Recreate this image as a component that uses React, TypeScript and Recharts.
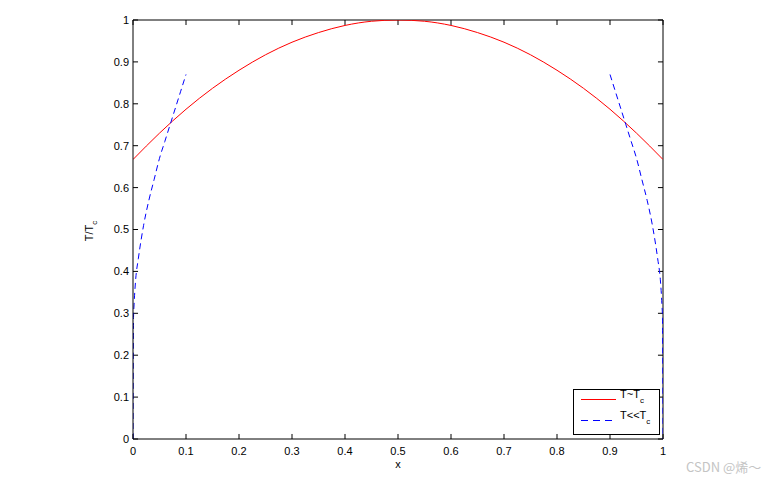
import { LineChart, Line, XAxis, YAxis, Legend, ReferenceLine } from "recharts";

// axis ticks
const xTicks = [0, 0.1, 0.2, 0.3, 0.4, 0.5, 0.6, 0.7, 0.8, 0.9, 1];
const yTicks = [0, 0.1, 0.2, 0.3, 0.4, 0.5, 0.6, 0.7, 0.8, 0.9, 1];

// T ~ Tc (red solid)
const nearX = [0, 0.05, 0.1, 0.15, 0.2, 0.25, 0.3, 0.35, 0.4, 0.45, 0.5, 0.55, 0.6, 0.65, 0.7, 0.75, 0.8, 0.85, 0.9, 0.95, 1];
const nearY = [0.667, 0.73, 0.787, 0.837, 0.88, 0.917, 0.947, 0.97, 0.987, 0.997, 1, 0.997, 0.987, 0.97, 0.947, 0.917, 0.88, 0.837, 0.787, 0.73, 0.667];

// T << Tc (blue dashed), left and right branches
const lowLeftX = [0, 0.001, 0.002, 0.005, 0.01, 0.02, 0.03, 0.04, 0.05, 0.06, 0.07, 0.08, 0.09, 0.1];
const lowLeftY = [0, 0.29, 0.32, 0.38, 0.43, 0.51, 0.57, 0.62, 0.67, 0.71, 0.75, 0.79, 0.83, 0.87];
const lowRightX = [0.9, 0.91, 0.92, 0.93, 0.94, 0.95, 0.96, 0.97, 0.98, 0.99, 0.995, 0.998, 0.999, 1];
const lowRightY = [0.87, 0.83, 0.79, 0.75, 0.71, 0.67, 0.62, 0.57, 0.51, 0.43, 0.38, 0.32, 0.29, 0];

const zip = (xs: number[], ys: number[]) => xs.map((x, i) => ({ x, y: ys[i] }));
const nearData = zip(nearX, nearY);
const lowLeft = zip(lowLeftX, lowLeftY);
const lowRight = zip(lowRightX, lowRightY);

// inward tick length in data units (matlab style box ticks)
const TICK_X = 0.0095;
const TICK_Y = 0.012;

const FONT = "'Liberation Sans', Arial, Helvetica, sans-serif";
const tickStyle = { fill: "#000", fontSize: 11, fontFamily: FONT };

function YLabel() {
  return (
    <text
      transform="translate(93,231) rotate(-90)"
      textAnchor="middle"
      fontSize={11}
      fontFamily={FONT}
      fill="#000"
    >
      T/T
      <tspan dy={4} fontSize={8}>c</tspan>
    </text>
  );
}

function XLabel() {
  return (
    <text x={398} y={468} textAnchor="middle" fontSize={11} fontFamily={FONT} fill="#000">
      x
    </text>
  );
}

function LegendBox() {
  return (
    <svg width={87} height={46} style={{ display: "block" }}>
      <rect x={0.5} y={0.5} width={86} height={45} fill="#fff" stroke="#000" />
      <line x1={8} y1={10.5} x2={43} y2={10.5} stroke="#ff0000" />
      <text x={47} y={9} fontSize={11} fontFamily={FONT} fill="#000">
        T~T<tspan dy={5} fontSize={8}>c</tspan>
      </text>
      <line x1={8} y1={31.5} x2={43} y2={31.5} stroke="#0000ff" strokeDasharray="7 5" />
      <text x={47} y={30} fontSize={11} fontFamily={FONT} fill="#000">
        T&lt;&lt;T<tspan dy={5} fontSize={8}>c</tspan>
      </text>
    </svg>
  );
}

const ax = { xAxisId: "b", yAxisId: "l" };

export default function App() {
  return (
    <div style={{ position: "fixed", left: 0, top: 0, width: 775, height: 481, background: "#fff" }}>
      <LineChart width={775} height={481} margin={{ top: 20, right: 112, bottom: 0, left: 0 }}>
        <XAxis
          xAxisId="b"
          type="number"
          dataKey="x"
          domain={[0, 1]}
          ticks={xTicks}
          allowDataOverflow
          height={42}
          tickSize={0}
          tickLine={false}
          tickMargin={8}
          tick={tickStyle}
          stroke="#000"
          label={<XLabel />}
        />
        <YAxis
          yAxisId="l"
          type="number"
          domain={[0, 1]}
          ticks={yTicks}
          allowDataOverflow
          width={133}
          tickSize={0}
          tickLine={false}
          tickMargin={4}
          tick={tickStyle}
          stroke="#000"
          label={<YLabel />}
        />
        {/* top and right edges of the box */}
        <ReferenceLine {...ax} y={1} stroke="#000" strokeWidth={1} />
        <ReferenceLine {...ax} x={1} stroke="#000" strokeWidth={1} />
        {xTicks.map((t) => (
          <ReferenceLine
            key={"bx" + t}
            {...ax}
            segment={[{ x: t, y: 0 }, { x: t, y: TICK_Y }]}
            stroke="#000"
          />
        ))}
        {xTicks.map((t) => (
          <ReferenceLine
            key={"tx" + t}
            {...ax}
            segment={[{ x: t, y: 1 }, { x: t, y: 1 - TICK_Y }]}
            stroke="#000"
          />
        ))}
        {yTicks.map((t) => (
          <ReferenceLine
            key={"ly" + t}
            {...ax}
            segment={[{ x: 0, y: t }, { x: TICK_X, y: t }]}
            stroke="#000"
          />
        ))}
        {yTicks.map((t) => (
          <ReferenceLine
            key={"ry" + t}
            {...ax}
            segment={[{ x: 1, y: t }, { x: 1 - TICK_X, y: t }]}
            stroke="#000"
          />
        ))}
        <Line
          {...ax}
          data={nearData}
          dataKey="y"
          type="monotone"
          stroke="#ff0000"
          strokeWidth={1}
          dot={false}
          activeDot={false}
          isAnimationActive={false}
        />
        <Line
          {...ax}
          data={lowLeft}
          dataKey="y"
          type="monotone"
          stroke="#0000ff"
          strokeWidth={1}
          strokeDasharray="6 4"
          dot={false}
          activeDot={false}
          isAnimationActive={false}
        />
        <Line
          {...ax}
          data={lowRight}
          dataKey="y"
          type="monotone"
          stroke="#0000ff"
          strokeWidth={1}
          strokeDasharray="6 4"
          dot={false}
          activeDot={false}
          isAnimationActive={false}
        />
        <Legend
          layout="horizontal"
          verticalAlign="middle"
          align="center"
          content={<LegendBox />}
          wrapperStyle={{ left: 573, top: 389, width: 87, height: 46 }}
        />
      </LineChart>
      <div
        style={{
          position: "absolute",
          left: 686,
          top: 459,
          fontSize: 13,
          color: "#c4c4c4",
          fontFamily: "'Noto Sans CJK SC', sans-serif",
          whiteSpace: "nowrap",
          lineHeight: "16px",
        }}
      >
        CSDN @烯～
      </div>
    </div>
  );
}
